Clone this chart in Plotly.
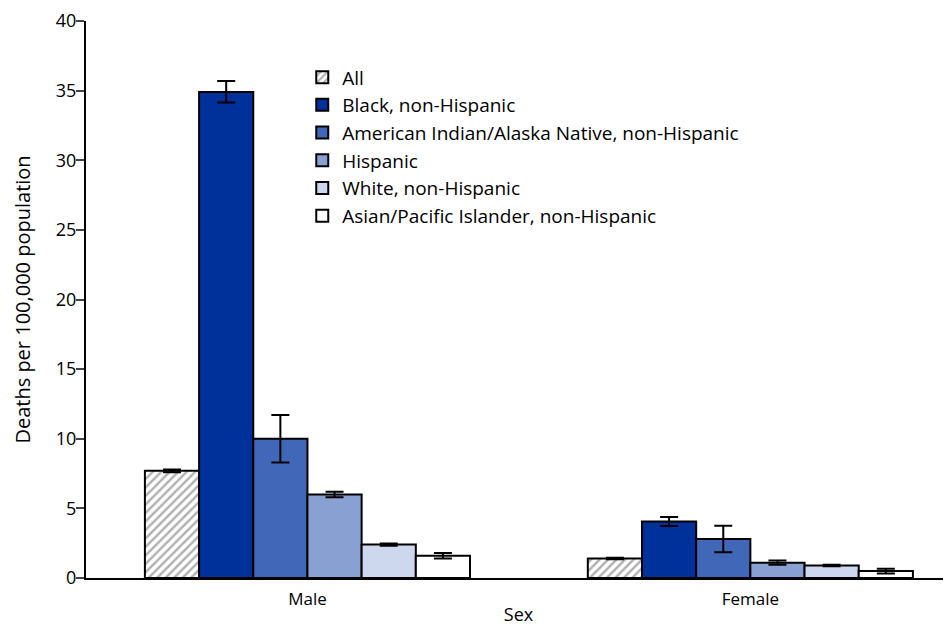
import plotly.graph_objects as go

sexes = ["Male", "Female"]
groups = ["All", "Black, non-Hispanic", "American Indian/Alaska Native, non-Hispanic",
          "Hispanic", "White, non-Hispanic", "Asian/Pacific Islander, non-Hispanic"]
values = {
    "All": [7.7, 1.4],
    "Black, non-Hispanic": [34.9, 4.05],
    "American Indian/Alaska Native, non-Hispanic": [10.0, 2.8],
    "Hispanic": [6.0, 1.1],
    "White, non-Hispanic": [2.4, 0.9],
    "Asian/Pacific Islander, non-Hispanic": [1.6, 0.5],
}
err_plus = {
    "All": [0.1, 0.05],
    "Black, non-Hispanic": [0.8, 0.33],
    "American Indian/Alaska Native, non-Hispanic": [1.7, 0.95],
    "Hispanic": [0.2, 0.15],
    "White, non-Hispanic": [0.08, 0.05],
    "Asian/Pacific Islander, non-Hispanic": [0.2, 0.17],
}
err_minus = {
    "All": [0.1, 0.05],
    "Black, non-Hispanic": [0.75, 0.32],
    "American Indian/Alaska Native, non-Hispanic": [1.7, 0.95],
    "Hispanic": [0.2, 0.15],
    "White, non-Hispanic": [0.08, 0.05],
    "Asian/Pacific Islander, non-Hispanic": [0.2, 0.17],
}
colors = ["#ffffff", "#00309a", "#4168b8", "#88a0d2", "#cdd7ee", "#ffffff"]

fig = go.Figure()
for g, c in zip(groups, colors):
    marker = dict(color=c, line=dict(color="black", width=2))
    if g == "All":
        marker["pattern"] = dict(shape="/", fgcolor="#606060", bgcolor="white", size=6, solidity=0.4)
    fig.add_trace(go.Bar(
        x=sexes, y=values[g], name=g, marker=marker,
        error_y=dict(type="data", symmetric=False, array=err_plus[g], arrayminus=err_minus[g],
                     color="black", thickness=2, width=9),
    ))

fig.update_layout(
    width=943, height=618,
    margin=dict(l=78, r=0, t=13, b=48, autoexpand=False),
    plot_bgcolor="white", paper_bgcolor="white",
    barmode="group", bargap=0.266, bargroupgap=0,
    font=dict(family="Open Sans", size=17, color="black"),
    showlegend=True,
    legend=dict(x=0.25, y=0.933, xanchor="left", yanchor="top",
                font=dict(size=19), bgcolor="rgba(0,0,0,0)", tracegroupgap=0),
    xaxis=dict(range=[-0.5, 1.453], showline=True, linecolor="black", linewidth=2,
               ticks="", automargin=False, tickfont=dict(size=17), ticklabelstandoff=5,
               title=dict(text="Sex", font=dict(size=18), standoff=4),
               showgrid=False),
    yaxis=dict(range=[0, 40], dtick=5, showline=True, linecolor="black", linewidth=2,
               ticks="outside", ticklen=8, tickwidth=2, showgrid=False, zeroline=False,
               automargin=False, tickfont=dict(size=18), ticklabelstandoff=-4,
               title=dict(text="Deaths per 100,000 population", font=dict(size=20), standoff=20)),
)
fig.write_html("out.html")
